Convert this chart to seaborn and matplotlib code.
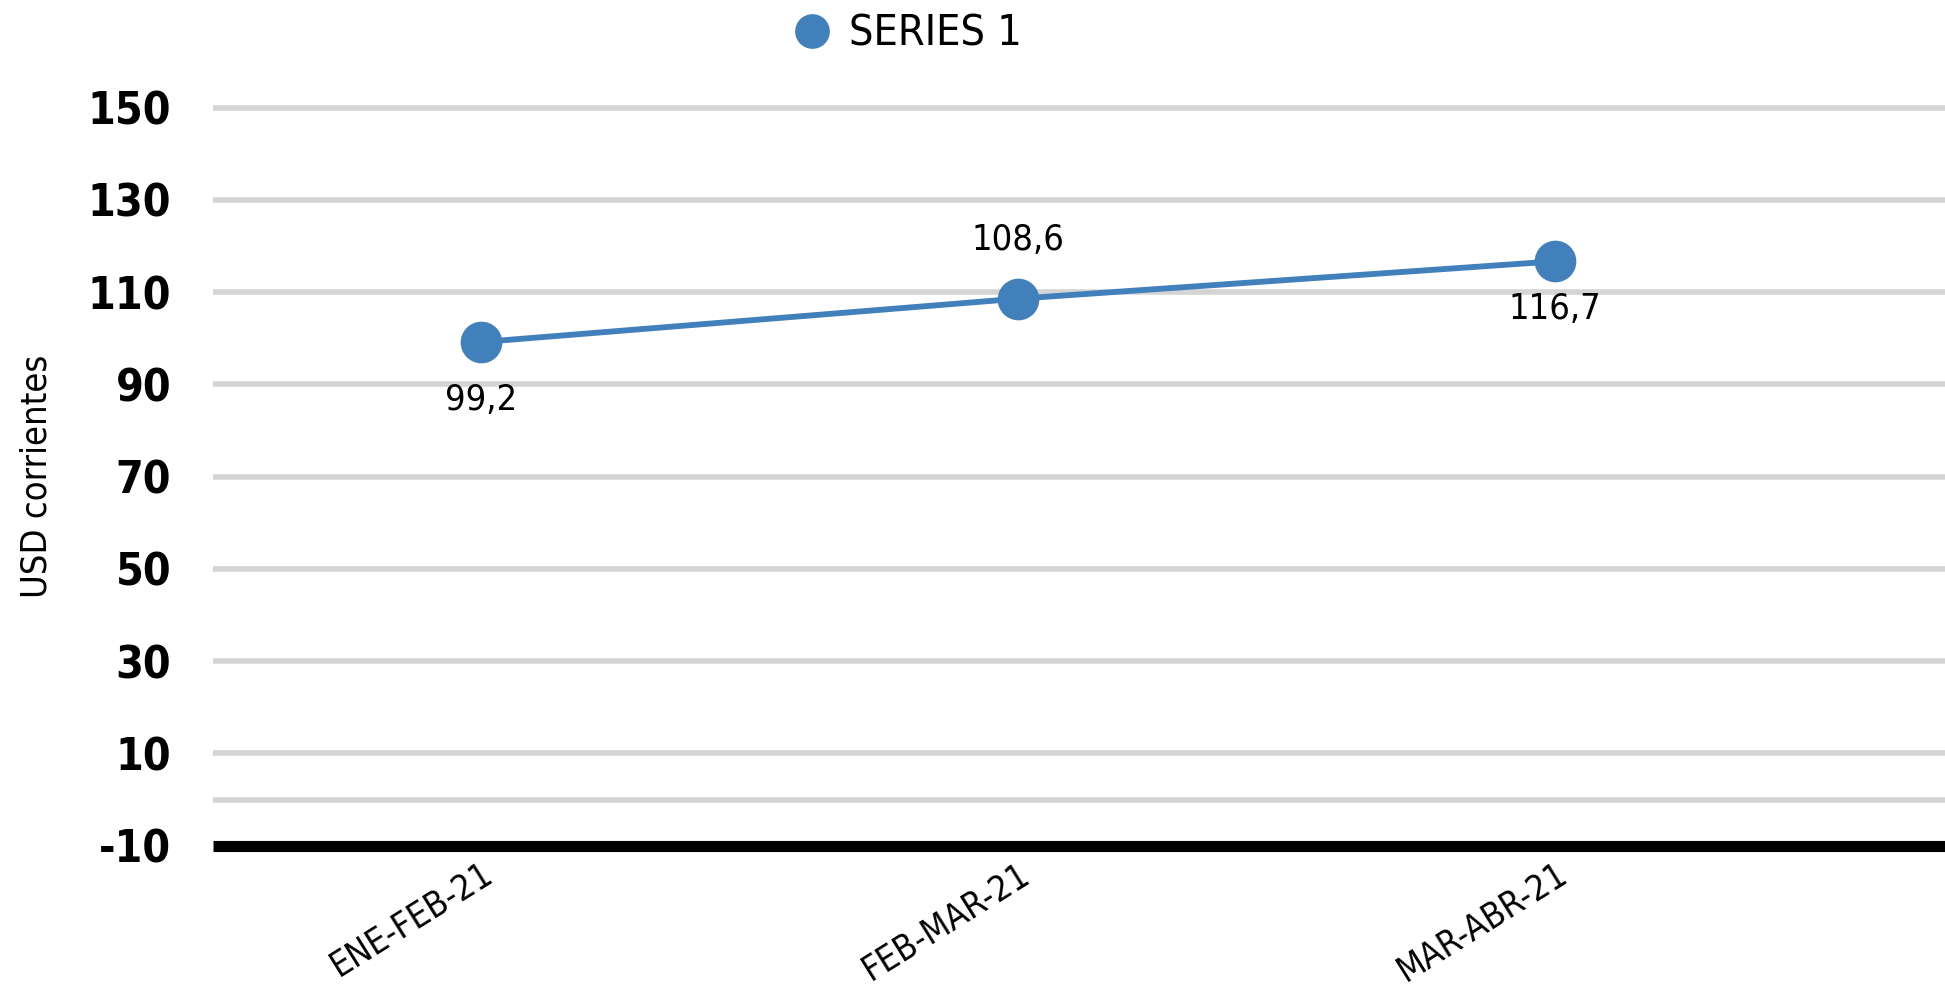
import pandas as pd
import seaborn as sns
import matplotlib.pyplot as plt
from matplotlib import font_manager
from matplotlib.lines import Line2D

# Datos del gráfico
periodos = ['ENE-FEB-21', 'FEB-MAR-21', 'MAR-ABR-21']
valores = [99.2, 108.6, 116.7]
etiquetas = ['99,2', '108,6', '116,7']
ticks_y = [-10, 10, 30, 50, 70, 90, 110, 130, 150]
serie = 'SERIES 1'

df = pd.DataFrame({'periodo': periodos, 'valor': valores})

azul = '#4180BB'
gris = '#D4D4D4'

sns.set_style('white')

# Buscar una fuente estrecha
nombres = {f.name for f in font_manager.fontManager.ttflist}
if 'Liberation Sans Narrow' in nombres:
    fuente = ['Liberation Sans Narrow', 'DejaVu Sans']
    estiramiento = 'normal'
else:
    fuente = ['DejaVu Sans']
    estiramiento = 'condensed'
plt.rcParams['font.family'] = fuente
plt.rcParams['font.stretch'] = estiramiento
for k in ['text.color', 'xtick.color', 'ytick.color', 'axes.labelcolor']:
    plt.rcParams[k] = 'black'

fig = plt.figure(figsize=(19.45, 9.91), dpi=100)
ax = fig.add_axes([0.1095, 0.1466, 0.8905, 0.7447])

# Líneas de cuadrícula
for v in ticks_y[1:]:
    ax.axhline(v, color=gris, lw=4, zorder=0, clip_on=False,
               solid_capstyle='butt')
ax.axhline(0, color=gris, lw=4, zorder=0, clip_on=False, solid_capstyle='butt')
ax.axhline(-10, color='black', lw=8, zorder=1, clip_on=False,
           solid_capstyle='butt')

sns.lineplot(data=df, x='periodo', y='valor', ax=ax, color=azul, lw=4.2,
             marker='o', markersize=30, markeredgewidth=0, sort=False,
             zorder=3, legend=False)

# Etiquetas de datos
offsets = [-42, 42, -34]
for i, (v, t) in enumerate(zip(valores, etiquetas)):
    ax.annotate(t, (i, v), xytext=(0, offsets[i]), textcoords='offset points',
                ha='center', va='center', fontsize=26)

ax.set_xlim(-0.5, 2.726)
ax.set_ylim(-10, 150)
ax.set_yticks(ticks_y)
ax.set_yticklabels([str(t) for t in ticks_y], fontsize=32, fontweight='bold')
ax.tick_params(axis='y', length=0, pad=30)
ax.tick_params(axis='x', length=0, pad=8)
for lab in ax.get_xticklabels():
    lab.set_rotation(32)
    lab.set_ha('right')
    lab.set_rotation_mode('anchor')
    lab.set_fontsize(25)
ax.set_xlabel('')
ax.set_ylabel('USD corrientes', fontsize=26)
ax.yaxis.set_label_coords(-0.092, 0.5)
sns.despine(ax=ax, left=True, bottom=True)

# Leyenda
h = Line2D([], [], marker='o', linestyle='none', color=azul, markersize=25,
           markeredgewidth=0)
fig.legend([h], [serie], loc='center', bbox_to_anchor=(0.466, 0.966),
           frameon=False, fontsize=31, handletextpad=0.35, handlelength=1)

fig.savefig('out.png', dpi=100)
